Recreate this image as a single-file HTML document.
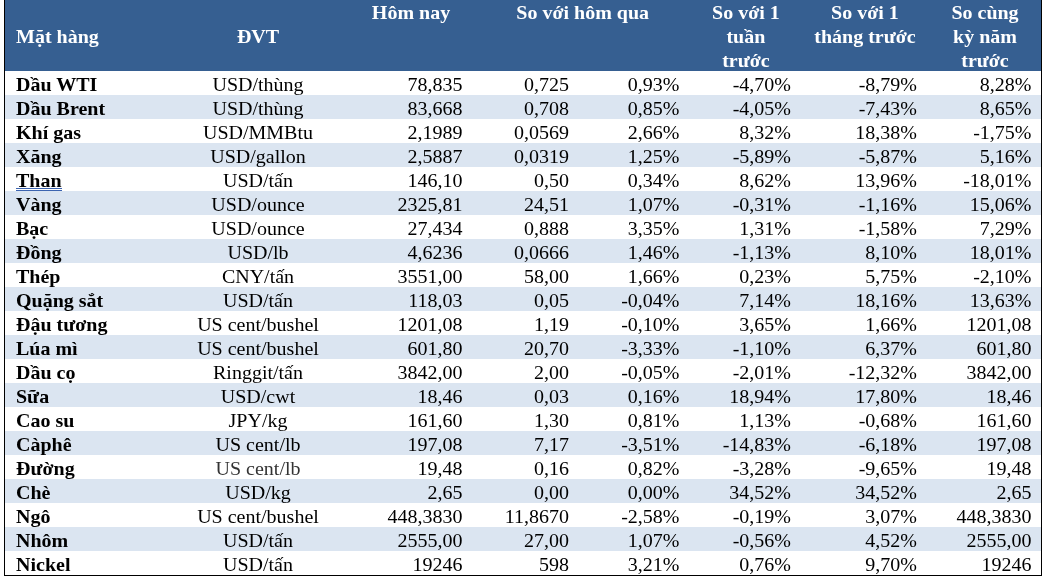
<!DOCTYPE html>
<html lang="vi"><head><meta charset="utf-8"><title>Giá hàng hóa</title>
<style>
html,body{margin:0;padding:0;background:#fff;}
body{width:1046px;height:580px;position:relative;overflow:hidden;font-family:"Liberation Serif","Times New Roman",serif;font-size:20px;color:#000;}
#frame{position:absolute;left:4px;top:0;width:1036px;height:575px;border-left:1px solid #000;border-right:1px solid #000;border-bottom:1px solid #000;}
#head{position:absolute;left:5px;top:0;width:1036px;height:71px;background:#365f91;}
.h{position:absolute;color:#fff;font-weight:bold;height:24px;line-height:24px;white-space:nowrap;transform:scaleY(.95);transform-origin:50% 19px;}
.hc{text-align:center;transform:translateX(-50%) scaleY(.95);}
.row{position:absolute;left:5px;width:1036px;height:24px;}
.alt{background:#dbe5f1;}
.c{position:absolute;top:1px;height:24px;line-height:24px;white-space:nowrap;transform:scaleY(.95);transform-origin:50% 19px;}
.n{left:11px;font-weight:bold;}
.u{transform:translateX(-50%) scaleY(.95);}
.r{text-align:right;}
.gu{position:absolute;left:11px;top:21px;width:46px;height:1px;border-top:1px solid #3c64b0;border-bottom:1px solid #3c64b0;}
</style></head><body>
<div id="head"></div>

<div class="h" style="left:16px;top:24.0px">Mặt hàng</div>
<div class="h hc" style="left:258px;top:24.0px">ĐVT</div>
<div class="h hc" style="left:411px;top:0.0px">Hôm nay</div>
<div class="h hc" style="left:582.7px;top:0.0px">So với hôm qua</div>
<div class="h hc" style="left:745.9px;top:0.0px">So với 1</div>
<div class="h hc" style="left:745.9px;top:23.8px">tuần</div>
<div class="h hc" style="left:745.9px;top:47.6px">trước</div>
<div class="h hc" style="left:865px;top:0.0px">So với 1</div>
<div class="h hc" style="left:865px;top:23.8px">tháng trước</div>
<div class="h hc" style="left:985px;top:0.0px">So cùng</div>
<div class="h hc" style="left:985px;top:23.8px">kỳ năm</div>
<div class="h hc" style="left:985px;top:47.6px">trước</div>
<div class="row" style="top:71px"><span class="c n">Dầu WTI</span><span class="c u" style="left:253px">USD/thùng</span><span class="c r" style="right:578.5px">78,835</span><span class="c r" style="right:472px">0,725</span><span class="c r" style="right:361.5px">0,93%</span><span class="c r" style="right:250px">-4,70%</span><span class="c r" style="right:124px">-8,79%</span><span class="c r" style="right:9.5px">8,28%</span></div>
<div class="row alt" style="top:95px"><span class="c n">Dầu Brent</span><span class="c u" style="left:253px">USD/thùng</span><span class="c r" style="right:578.5px">83,668</span><span class="c r" style="right:472px">0,708</span><span class="c r" style="right:361.5px">0,85%</span><span class="c r" style="right:250px">-4,05%</span><span class="c r" style="right:124px">-7,43%</span><span class="c r" style="right:9.5px">8,65%</span></div>
<div class="row" style="top:119px"><span class="c n">Khí gas</span><span class="c u" style="left:253px">USD/MMBtu</span><span class="c r" style="right:578.5px">2,1989</span><span class="c r" style="right:472px">0,0569</span><span class="c r" style="right:361.5px">2,66%</span><span class="c r" style="right:250px">8,32%</span><span class="c r" style="right:124px">18,38%</span><span class="c r" style="right:9.5px">-1,75%</span></div>
<div class="row alt" style="top:143px"><span class="c n">Xăng</span><span class="c u" style="left:253px">USD/gallon</span><span class="c r" style="right:578.5px">2,5887</span><span class="c r" style="right:472px">0,0319</span><span class="c r" style="right:361.5px">1,25%</span><span class="c r" style="right:250px">-5,89%</span><span class="c r" style="right:124px">-5,87%</span><span class="c r" style="right:9.5px">5,16%</span></div>
<div class="row" style="top:167px"><span class="c n">Than</span><span class="gu"></span><span class="c u" style="left:253px">USD/tấn</span><span class="c r" style="right:578.5px">146,10</span><span class="c r" style="right:472px">0,50</span><span class="c r" style="right:361.5px">0,34%</span><span class="c r" style="right:250px">8,62%</span><span class="c r" style="right:124px">13,96%</span><span class="c r" style="right:9.5px">-18,01%</span></div>
<div class="row alt" style="top:191px"><span class="c n">Vàng</span><span class="c u" style="left:253px">USD/ounce</span><span class="c r" style="right:578.5px">2325,81</span><span class="c r" style="right:472px">24,51</span><span class="c r" style="right:361.5px">1,07%</span><span class="c r" style="right:250px">-0,31%</span><span class="c r" style="right:124px">-1,16%</span><span class="c r" style="right:9.5px">15,06%</span></div>
<div class="row" style="top:215px"><span class="c n">Bạc</span><span class="c u" style="left:253px">USD/ounce</span><span class="c r" style="right:578.5px">27,434</span><span class="c r" style="right:472px">0,888</span><span class="c r" style="right:361.5px">3,35%</span><span class="c r" style="right:250px">1,31%</span><span class="c r" style="right:124px">-1,58%</span><span class="c r" style="right:9.5px">7,29%</span></div>
<div class="row alt" style="top:239px"><span class="c n">Đồng</span><span class="c u" style="left:253px">USD/lb</span><span class="c r" style="right:578.5px">4,6236</span><span class="c r" style="right:472px">0,0666</span><span class="c r" style="right:361.5px">1,46%</span><span class="c r" style="right:250px">-1,13%</span><span class="c r" style="right:124px">8,10%</span><span class="c r" style="right:9.5px">18,01%</span></div>
<div class="row" style="top:263px"><span class="c n">Thép</span><span class="c u" style="left:253px">CNY/tấn</span><span class="c r" style="right:578.5px">3551,00</span><span class="c r" style="right:472px">58,00</span><span class="c r" style="right:361.5px">1,66%</span><span class="c r" style="right:250px">0,23%</span><span class="c r" style="right:124px">5,75%</span><span class="c r" style="right:9.5px">-2,10%</span></div>
<div class="row alt" style="top:287px"><span class="c n">Quặng sắt</span><span class="c u" style="left:253px">USD/tấn</span><span class="c r" style="right:578.5px">118,03</span><span class="c r" style="right:472px">0,05</span><span class="c r" style="right:361.5px">-0,04%</span><span class="c r" style="right:250px">7,14%</span><span class="c r" style="right:124px">18,16%</span><span class="c r" style="right:9.5px">13,63%</span></div>
<div class="row" style="top:311px"><span class="c n">Đậu tương</span><span class="c u" style="left:253px">US cent/bushel</span><span class="c r" style="right:578.5px">1201,08</span><span class="c r" style="right:472px">1,19</span><span class="c r" style="right:361.5px">-0,10%</span><span class="c r" style="right:250px">3,65%</span><span class="c r" style="right:124px">1,66%</span><span class="c r" style="right:9.5px">1201,08</span></div>
<div class="row alt" style="top:335px"><span class="c n">Lúa mì</span><span class="c u" style="left:253px">US cent/bushel</span><span class="c r" style="right:578.5px">601,80</span><span class="c r" style="right:472px">20,70</span><span class="c r" style="right:361.5px">-3,33%</span><span class="c r" style="right:250px">-1,10%</span><span class="c r" style="right:124px">6,37%</span><span class="c r" style="right:9.5px">601,80</span></div>
<div class="row" style="top:359px"><span class="c n">Dầu cọ</span><span class="c u" style="left:253px">Ringgit/tấn</span><span class="c r" style="right:578.5px">3842,00</span><span class="c r" style="right:472px">2,00</span><span class="c r" style="right:361.5px">-0,05%</span><span class="c r" style="right:250px">-2,01%</span><span class="c r" style="right:124px">-12,32%</span><span class="c r" style="right:9.5px">3842,00</span></div>
<div class="row alt" style="top:383px"><span class="c n">Sữa</span><span class="c u" style="left:253px">USD/cwt</span><span class="c r" style="right:578.5px">18,46</span><span class="c r" style="right:472px">0,03</span><span class="c r" style="right:361.5px">0,16%</span><span class="c r" style="right:250px">18,94%</span><span class="c r" style="right:124px">17,80%</span><span class="c r" style="right:9.5px">18,46</span></div>
<div class="row" style="top:407px"><span class="c n">Cao su</span><span class="c u" style="left:253px">JPY/kg</span><span class="c r" style="right:578.5px">161,60</span><span class="c r" style="right:472px">1,30</span><span class="c r" style="right:361.5px">0,81%</span><span class="c r" style="right:250px">1,13%</span><span class="c r" style="right:124px">-0,68%</span><span class="c r" style="right:9.5px">161,60</span></div>
<div class="row alt" style="top:431px"><span class="c n">Càphê</span><span class="c u" style="left:253px">US cent/lb</span><span class="c r" style="right:578.5px">197,08</span><span class="c r" style="right:472px">7,17</span><span class="c r" style="right:361.5px">-3,51%</span><span class="c r" style="right:250px">-14,83%</span><span class="c r" style="right:124px">-6,18%</span><span class="c r" style="right:9.5px">197,08</span></div>
<div class="row" style="top:455px"><span class="c n">Đường</span><span class="c u" style="left:253px;color:#333">US cent/lb</span><span class="c r" style="right:578.5px">19,48</span><span class="c r" style="right:472px">0,16</span><span class="c r" style="right:361.5px">0,82%</span><span class="c r" style="right:250px">-3,28%</span><span class="c r" style="right:124px">-9,65%</span><span class="c r" style="right:9.5px">19,48</span></div>
<div class="row alt" style="top:479px"><span class="c n">Chè</span><span class="c u" style="left:253px">USD/kg</span><span class="c r" style="right:578.5px">2,65</span><span class="c r" style="right:472px">0,00</span><span class="c r" style="right:361.5px">0,00%</span><span class="c r" style="right:250px">34,52%</span><span class="c r" style="right:124px">34,52%</span><span class="c r" style="right:9.5px">2,65</span></div>
<div class="row" style="top:503px"><span class="c n">Ngô</span><span class="c u" style="left:253px">US cent/bushel</span><span class="c r" style="right:578.5px">448,3830</span><span class="c r" style="right:472px">11,8670</span><span class="c r" style="right:361.5px">-2,58%</span><span class="c r" style="right:250px">-0,19%</span><span class="c r" style="right:124px">3,07%</span><span class="c r" style="right:9.5px">448,3830</span></div>
<div class="row alt" style="top:527px"><span class="c n">Nhôm</span><span class="c u" style="left:253px">USD/tấn</span><span class="c r" style="right:578.5px">2555,00</span><span class="c r" style="right:472px">27,00</span><span class="c r" style="right:361.5px">1,07%</span><span class="c r" style="right:250px">-0,56%</span><span class="c r" style="right:124px">4,52%</span><span class="c r" style="right:9.5px">2555,00</span></div>
<div class="row" style="top:551px"><span class="c n">Nickel</span><span class="c u" style="left:253px">USD/tấn</span><span class="c r" style="right:578.5px">19246</span><span class="c r" style="right:472px">598</span><span class="c r" style="right:361.5px">3,21%</span><span class="c r" style="right:250px">0,76%</span><span class="c r" style="right:124px">9,70%</span><span class="c r" style="right:9.5px">19246</span></div>
<div id="frame"></div>
</body></html>
